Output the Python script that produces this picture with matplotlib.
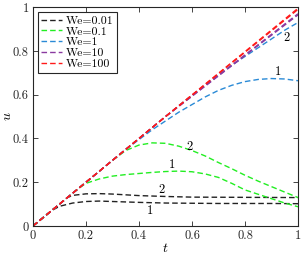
import numpy as np
import matplotlib
matplotlib.use("Agg")
import matplotlib.pyplot as plt

plt.rcParams["font.family"] = "serif"
plt.rcParams["font.serif"] = ["cmr10", "DejaVu Serif"]
plt.rcParams["mathtext.fontset"] = "cm"
plt.rcParams["axes.unicode_minus"] = False

# ---- data ----------------------------------------------------------------
labels = ["We=0.01", "We=0.1", "We=1", "We=10", "We=100"]
colors = ["#222222", "#22ee22", "#2a8ad6", "#8a3aa0", "#ff1a1a"]

# We=0.01
t_k1 = [0, 0.07, 0.1, 0.15, 0.2, 0.25, 0.3, 0.4, 0.5, 0.6, 0.7, 0.8, 0.9, 1.0]
u_k1 = [0, 0.07, 0.09, 0.105, 0.112, 0.114, 0.112, 0.108, 0.105, 0.104, 0.103, 0.103, 0.103, 0.102]
t_k2 = [0, 0.13, 0.15, 0.2, 0.25, 0.3, 0.4, 0.5, 0.6, 0.8, 1.0]
u_k2 = [0, 0.13, 0.14, 0.147, 0.148, 0.146, 0.139, 0.135, 0.132, 0.131, 0.13]

# We=0.1
t_g1 = [0, 0.17, 0.2, 0.25, 0.3, 0.35, 0.4, 0.45, 0.5, 0.55, 0.6, 0.65, 0.7, 0.75, 0.8, 0.85, 0.9, 0.95, 1.0]
u_g1 = [0, 0.17, 0.195, 0.215, 0.228, 0.235, 0.24, 0.245, 0.249, 0.251, 0.248, 0.238, 0.222, 0.195, 0.165, 0.145, 0.125, 0.105, 0.088]
t_g2 = [0, 0.3, 0.35, 0.4, 0.45, 0.5, 0.55, 0.6, 0.65, 0.7, 0.75, 0.8, 0.85, 0.9, 0.95, 1.0]
u_g2 = [0, 0.3, 0.345, 0.37, 0.38, 0.378, 0.365, 0.345, 0.32, 0.29, 0.262, 0.232, 0.205, 0.18, 0.155, 0.13]

# We=1
t_b1 = [0, 0.35, 0.4, 0.45, 0.5, 0.55, 0.6, 0.65, 0.7, 0.75, 0.8, 0.85, 0.9, 0.95, 1.0]
u_b1 = [0, 0.35, 0.395, 0.44, 0.48, 0.52, 0.555, 0.59, 0.62, 0.643, 0.66, 0.67, 0.674, 0.672, 0.664]
t_b2 = [0, 0.55, 0.65, 0.75, 0.85, 0.95, 1.0]
u_b2 = [0, 0.55, 0.645, 0.735, 0.815, 0.895, 0.93]

# We=10
t_p = [0, 0.5, 1.0]
u_p1 = [0, 0.5, 0.97]
u_p2 = [0, 0.5, 0.965]

# We=100
t_r = [0, 0.5, 1.0]
u_r1 = [0, 0.5, 0.995]
u_r2 = [0, 0.5, 0.99]

curves = [
    (t_k1, u_k1, 0), (t_k2, u_k2, 0),
    (t_g1, u_g1, 1), (t_g2, u_g2, 1),
    (t_b1, u_b1, 2), (t_b2, u_b2, 2),
    (t_p, u_p1, 3), (t_p, u_p2, 3),
    (t_r, u_r1, 4), (t_r, u_r2, 4),
]

# curve numbers placed next to the lines
notes = [("1", 0.44, 0.068), ("2", 0.485, 0.164),
         ("1", 0.523, 0.28), ("2", 0.59, 0.36),
         ("1", 0.923, 0.705), ("2", 0.955, 0.86)]

# ---- figure --------------------------------------------------------------
fig = plt.figure(figsize=(3.05, 2.58), dpi=100)
ax = fig.add_axes([0.108, 0.124, 0.869, 0.848])

dash = (0, (4, 2.2))
seen = set()
for t, u, ci in curves:
    lab = labels[ci] if ci not in seen else None
    seen.add(ci)
    ax.plot(t, u, linestyle=dash, color=colors[ci], lw=1.0, label=lab)

for s, x, y in notes:
    ax.text(x, y, s, fontsize=9, ha="center", va="center")

ax.set_xlim(0, 1)
ax.set_ylim(0, 1)
ticks = [0, 0.2, 0.4, 0.6, 0.8, 1]
ticklab = ["0", "0.2", "0.4", "0.6", "0.8", "1"]
ax.set_xticks(ticks)
ax.set_xticklabels(ticklab)
ax.set_yticks(ticks)
ax.set_yticklabels(ticklab)
ax.tick_params(direction="in", top=True, right=True, length=3.5,
               width=0.6, labelsize=9, colors="#262626", pad=3)
for sp in ax.spines.values():
    sp.set_linewidth(0.8)
    sp.set_color("#262626")

ax.set_xlabel("$t$", fontsize=10, labelpad=0)
ax.set_ylabel("$u$", fontsize=10)
ax.yaxis.set_label_coords(-0.072, 0.5)

leg = ax.legend(loc="upper left", fontsize=8.5, handlelength=1.8,
                handletextpad=0.25, labelspacing=0.05, borderpad=0.3,
                borderaxespad=0.4, fancybox=False, framealpha=1)
leg.get_frame().set_edgecolor("#262626")
leg.get_frame().set_linewidth(0.8)

fig.savefig("out.png", dpi=100)
